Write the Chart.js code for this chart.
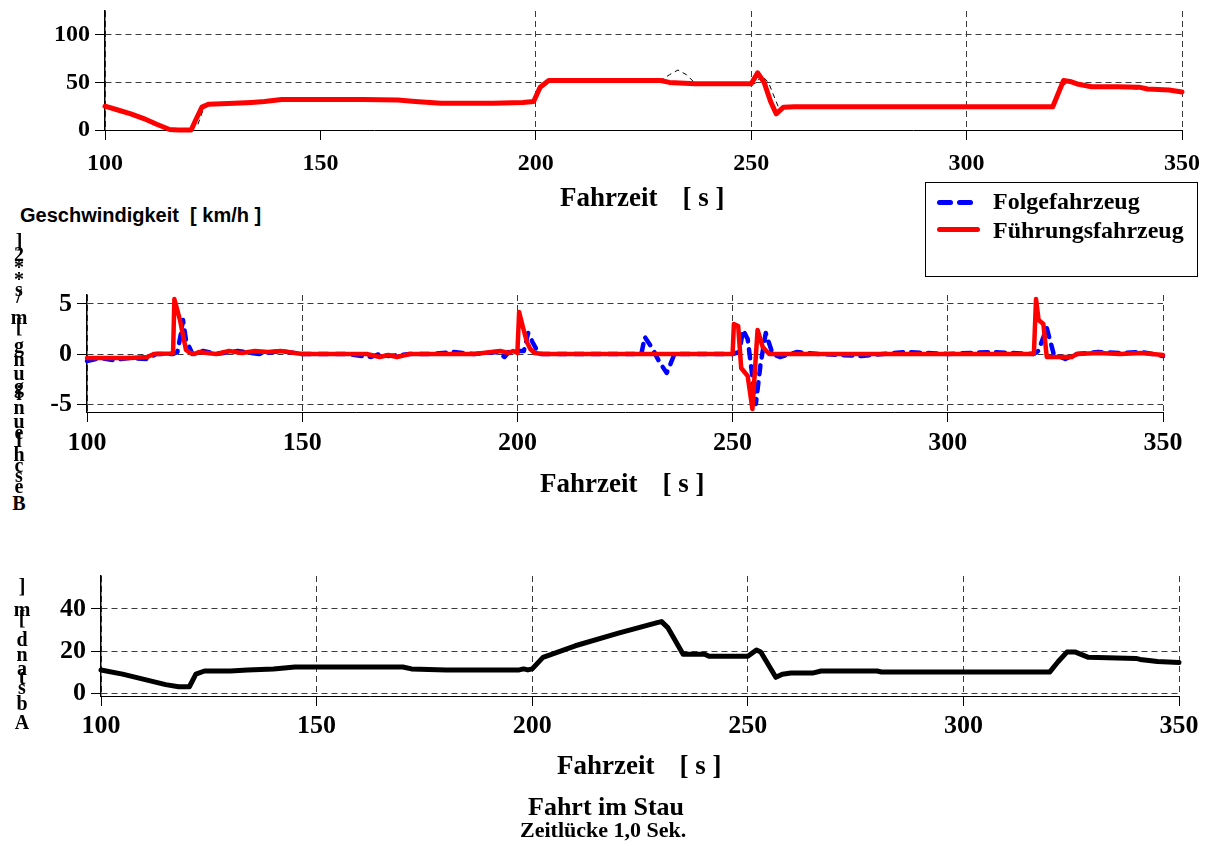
<!DOCTYPE html>
<html><head><meta charset="utf-8">
<script src="https://cdn.jsdelivr.net/npm/chart.js@4/dist/chart.umd.min.js"></script>
<style>
html,body{margin:0;padding:0;background:#fff;}
body{width:1209px;height:846px;position:relative;overflow:hidden;font-family:"Liberation Serif","Times New Roman",serif;}
.c{position:absolute;left:0;width:1209px;}
.t{position:absolute;font-weight:bold;white-space:pre;line-height:1;color:#000;}
.s{position:absolute;font-weight:bold;line-height:1;color:#000;font-family:"Liberation Serif",serif;}
</style></head><body>
<div class="c" style="top:0;height:200px"><canvas id="c1"></canvas></div>
<div class="c" style="top:280px;height:200px"><canvas id="c2"></canvas></div>
<div class="c" style="top:560px;height:200px"><canvas id="c3"></canvas></div>

<div class="t" style="left:560px;top:184px;font-size:27px">Fahrzeit<span style="margin-left:25px">[ s ]</span></div>
<div class="t" style="left:540px;top:470px;font-size:27px">Fahrzeit<span style="margin-left:25px">[ s ]</span></div>
<div class="t" style="left:557px;top:752px;font-size:27px">Fahrzeit<span style="margin-left:25px">[ s ]</span></div>
<div class="t" style="left:20px;top:205px;font-size:20px;font-family:'Liberation Sans',Arial,sans-serif">Geschwindigkeit  [ km/h ]</div>
<div class="t" style="left:528px;top:794px;font-size:26px">Fahrt im Stau</div>
<div class="t" style="left:520px;top:819px;font-size:22px">Zeitlücke 1,0 Sek.</div>

<div style="position:absolute;left:925px;top:182px;width:271px;height:93px;border:1.5px solid #000;"></div>
<div style="position:absolute;left:937px;top:200px;width:16px;height:5px;border-radius:3px;background:#0000ff"></div>
<div style="position:absolute;left:957px;top:200px;width:16px;height:5px;border-radius:3px;background:#0000ff"></div>
<div style="position:absolute;left:937px;top:227px;width:43px;height:5px;border-radius:3px;background:#ff0000"></div>
<div class="t" style="left:993px;top:189px;font-size:24px">Folgefahrzeug</div>
<div class="t" style="left:993px;top:218px;font-size:24px">Führungsfahrzeug</div>

<div id="lab2"></div>
<div id="lab3"></div>

<script>
// ---------- data ----------
const xTicks = [100, 150, 200, 250, 300, 350];
const speedTicks = [0, 50, 100];
const accelTicks = [-5, 0, 5];
const distTicks = [0, 20, 40];

// Geschwindigkeit [km/h] – Führungsfahrzeug
const speedLeadT = [100,103,106,109,112,115,117,120,121,122.5,124,130,134,137,141,150,160,168,172,178,190,197,199.5,201,203,210,220,229,231,237,245,250,251.5,253,254.5,255.8,257.5,260,280,300,320,322.5,324,326,329,335,340,342,347,350];
const speedLeadV = [25,21,17,12,6,0.5,0,0,10,24,27,28,29,30,32,32,32,31.5,30,28,28,29,30,45,52,52,52,52,50,48.5,48.5,48.5,60,50,30,17,24,24.5,24.5,24.5,24.5,52,51,48,45.5,45.5,45,43,42,40];
// Geschwindigkeit [km/h] – Folgefahrzeug
const speedFolT = [100,115,120,121.5,123,125,140,150,170,178,199.5,201.5,203,229,231,233,235,237,250,251,252.5,254,256.5,258,260,320,321.5,323.5,326,330,340,350];
const speedFolV = [25,1,0,5,24,27,31,32,31.5,28,29,45,52,52,58,63,58,49,48.5,49,57,50,22,23,24.5,24.5,40,52,48,45.5,43,40];

// Beschleunigung [m/s**2] – Führungsfahrzeug
const accLeadT = [100,105,110,114,115.5,119.5,120,120.3,121.6,123,124,125,126,130,133,136,139,142,145,150,160,165,168,170,172,175,180,190,196,198,199,200,200.4,201.4,202.2,203,204,206,210,230,250,250.3,251.3,252,253.5,254.6,255.8,257,258.5,260,280,300,320,320.5,321.1,322.2,323,328.8,330,335,340,345,350];
const accLeadV = [-0.4,-0.4,-0.4,-0.3,0,0.05,0.1,5.5,3.4,0.4,0.1,0,0.2,0,0.3,0.1,0.3,0.2,0.3,0,0,0,-0.3,-0.1,-0.3,0,0,0,0.3,0.1,0.3,0.1,4.2,2.5,1.2,0.5,0.1,0,0,0,0,3.0,2.8,-1.4,-2.2,-5.5,2.4,0.7,0,0,0,0,0,5.5,3.4,3,-0.3,-0.3,0,0.1,0,0.1,-0.1];
// Beschleunigung [m/s**2] – Folgefahrzeug
const accFolT = [100,103,106,110,114,116,120,121,121.8,122.3,123,124.5,127,130,135,140,145,150,160,166,168,170,175,180,185,190,195,197,198,199,200,201.5,202.5,203.5,205,210,220,228.8,229.6,231.3,233,234.7,236.5,240,250,251.6,252.4,253.5,255.4,256.5,257.7,259.3,261,265,270,280,290,300,310,320,321,323,324.6,327.3,330,335,340,345,350];
const accFolV = [-0.7,-0.4,-0.6,-0.4,-0.5,0,0,0.2,2,3.4,1.4,0,0.3,0,0.3,0,0.3,0,0,-0.3,0,-0.2,0,0,0.2,0,0.2,-0.3,0.2,0,0.3,0.3,2.1,1.2,0,0,0,0,1.7,0.6,-0.8,-1.9,0,0,0,0.2,2.4,1.5,-5,-1,2.1,0,-0.3,0.2,0,-0.2,0.2,0,0.2,0,0.3,2.6,0,-0.5,0,0.2,0.1,0.2,-0.2];

// Abstand [m]
const distT = [100,105,110,115,118,120.5,122,124,130,134,140,145,150,160,170,172,180,190,197,198,199,200,202.5,210,220,229,230,231.5,235,240,241,250,252,253,256.5,258,260,265,267,280,281,290,300,310,320,322,324,326,329,340,341,345,350];
const distV = [11,9,6.5,4,3,3,9,10.5,10.5,11,11.5,12.4,12.4,12.4,12.4,11.5,11,11,11,11.5,11,11.5,17,22.5,28.5,33.5,34,31,18.5,18.5,17.5,17.5,20.5,19.5,7.5,9,9.5,9.5,10.5,10.5,10,10,10,10,10,15,19.5,19.5,17,16.5,16,15,14.5];

const accelLabel = "Beschleunigung [m/s**2]";
const distLabel = "Abstand [m]";

// ---------- helpers ----------
const pts = (t, v) => t.map((x, i) => ({x: x, y: v[i]}));
const SERIF = "'Liberation Serif','Times New Roman',serif";
const GRID = '#3a3a3a';

function xScale(fs, pad, xh, hideVal) {
  return {
    type: 'linear', min: 100, max: 350,
    afterBuildTicks: s => { s.ticks = xTicks.map(v => ({value: v})); },
    afterFit: s => { s.height = xh; s.paddingLeft = 0; s.paddingRight = 0; s.paddingTop = 0; s.paddingBottom = 0; },
    border: {display: true, color: '#000', width: 1, dash: [6, 4]},
    grid: {
      color: c => (c.tick && c.tick.value === hideVal) ? 'rgba(0,0,0,0)' : GRID,
      tickColor: '#000', tickLength: 10, lineWidth: 1, drawTicks: true
    },
    ticks: {font: {family: SERIF, weight: 'bold', size: fs}, color: '#000', padding: pad, maxRotation: 0, autoSkip: false}
  };
}
function yScale(min, max, ticks, fs, w) {
  return {
    type: 'linear', min: min, max: max,
    afterBuildTicks: s => { s.ticks = ticks.map(v => ({value: v})); },
    afterFit: s => { s.width = w; s.paddingLeft = 0; s.paddingRight = 0; s.paddingTop = 0; s.paddingBottom = 0; },
    border: {display: true, color: '#000', width: 1.5, dash: [6, 4]},
    grid: {color: GRID, tickColor: '#000', tickLength: 10, lineWidth: 1},
    ticks: {font: {family: SERIF, weight: 'bold', size: fs}, color: '#000', padding: 5}
  };
}
function baseOpts(pad, xs, ys) {
  return {
    responsive: true, maintainAspectRatio: false, animation: false,
    layout: {padding: pad},
    plugins: {legend: {display: false}, tooltip: {enabled: false}, title: {display: false}},
    elements: {point: {radius: 0}, line: {tension: 0, borderJoinStyle: 'round'}},
    scales: {x: xs, y: ys}
  };
}

new Chart(document.getElementById('c1'), {
  type: 'line',
  data: {datasets: [
    {label: 'Folgefahrzeug', data: pts(speedFolT, speedFolV), borderColor: '#000', borderWidth: 1, borderDash: [5, 4], clip: 8, order: 2},
    {label: 'Führungsfahrzeug', data: pts(speedLeadT, speedLeadV), borderColor: '#ff0000', borderWidth: 5, borderCapStyle: 'round', borderJoinStyle: 'round', clip: 8, order: 1}
  ]},
  options: baseOpts({top: 11, right: 27, left: 0, bottom: 0}, xScale(24, 9, 70, 150), yScale(0, 125, speedTicks, 24, 105))
});

new Chart(document.getElementById('c2'), {
  type: 'line',
  data: {datasets: [
    {label: 'Führungsfahrzeug', data: pts(accLeadT, accLeadV), borderColor: '#ff0000', borderWidth: 4.5, borderCapStyle: 'round', borderJoinStyle: 'round', clip: 8, order: 1},
    {label: 'Folgefahrzeug', data: pts(accFolT, accFolV), borderColor: '#0000ff', borderWidth: 4.5, borderDash: [9, 8], borderCapStyle: 'round', borderJoinStyle: 'round', clip: 8, order: 2}
  ]},
  options: baseOpts({top: 15, right: 46, left: 0, bottom: 0}, xScale(26, 6, 68, null), yScale(-5.8, 5.9, accelTicks, 26, 87))
});

new Chart(document.getElementById('c3'), {
  type: 'line',
  data: {datasets: [
    {label: 'Abstand', data: pts(distT, distV), borderColor: '#000', borderWidth: 5, borderCapStyle: 'round', borderJoinStyle: 'round', clip: 8}
  ]},
  options: baseOpts({top: 16, right: 30, left: 0, bottom: 0}, xScale(26, 5, 64, null), yScale(-1.4, 55.7, distTicks, 26, 101))
});

// stacked (upright) axis labels, read bottom to top
function stackLabel(id, text, cx, bottom, fs, k) {
  const cv = document.createElement('canvas').getContext('2d');
  cv.font = 'bold ' + fs + 'px ' + SERIF;
  const host = document.getElementById(id);
  let y = bottom;
  for (const ch of text) {
    const w = cv.measureText(ch).width;
    if (ch !== ' ') {
      const sp = document.createElement('span');
      sp.className = 's';
      sp.textContent = ch;
      sp.style.fontSize = fs + 'px';
      sp.style.left = (cx - w / 2) + 'px';
      sp.style.top = (y - fs) + 'px';
      host.appendChild(sp);
    }
    y -= w * k;
  }
}
stackLabel('lab2', accelLabel, 19, 513, 20, 1.27);
stackLabel('lab3', distLabel, 22, 732, 20, 1.35);
</script>
</body></html>
